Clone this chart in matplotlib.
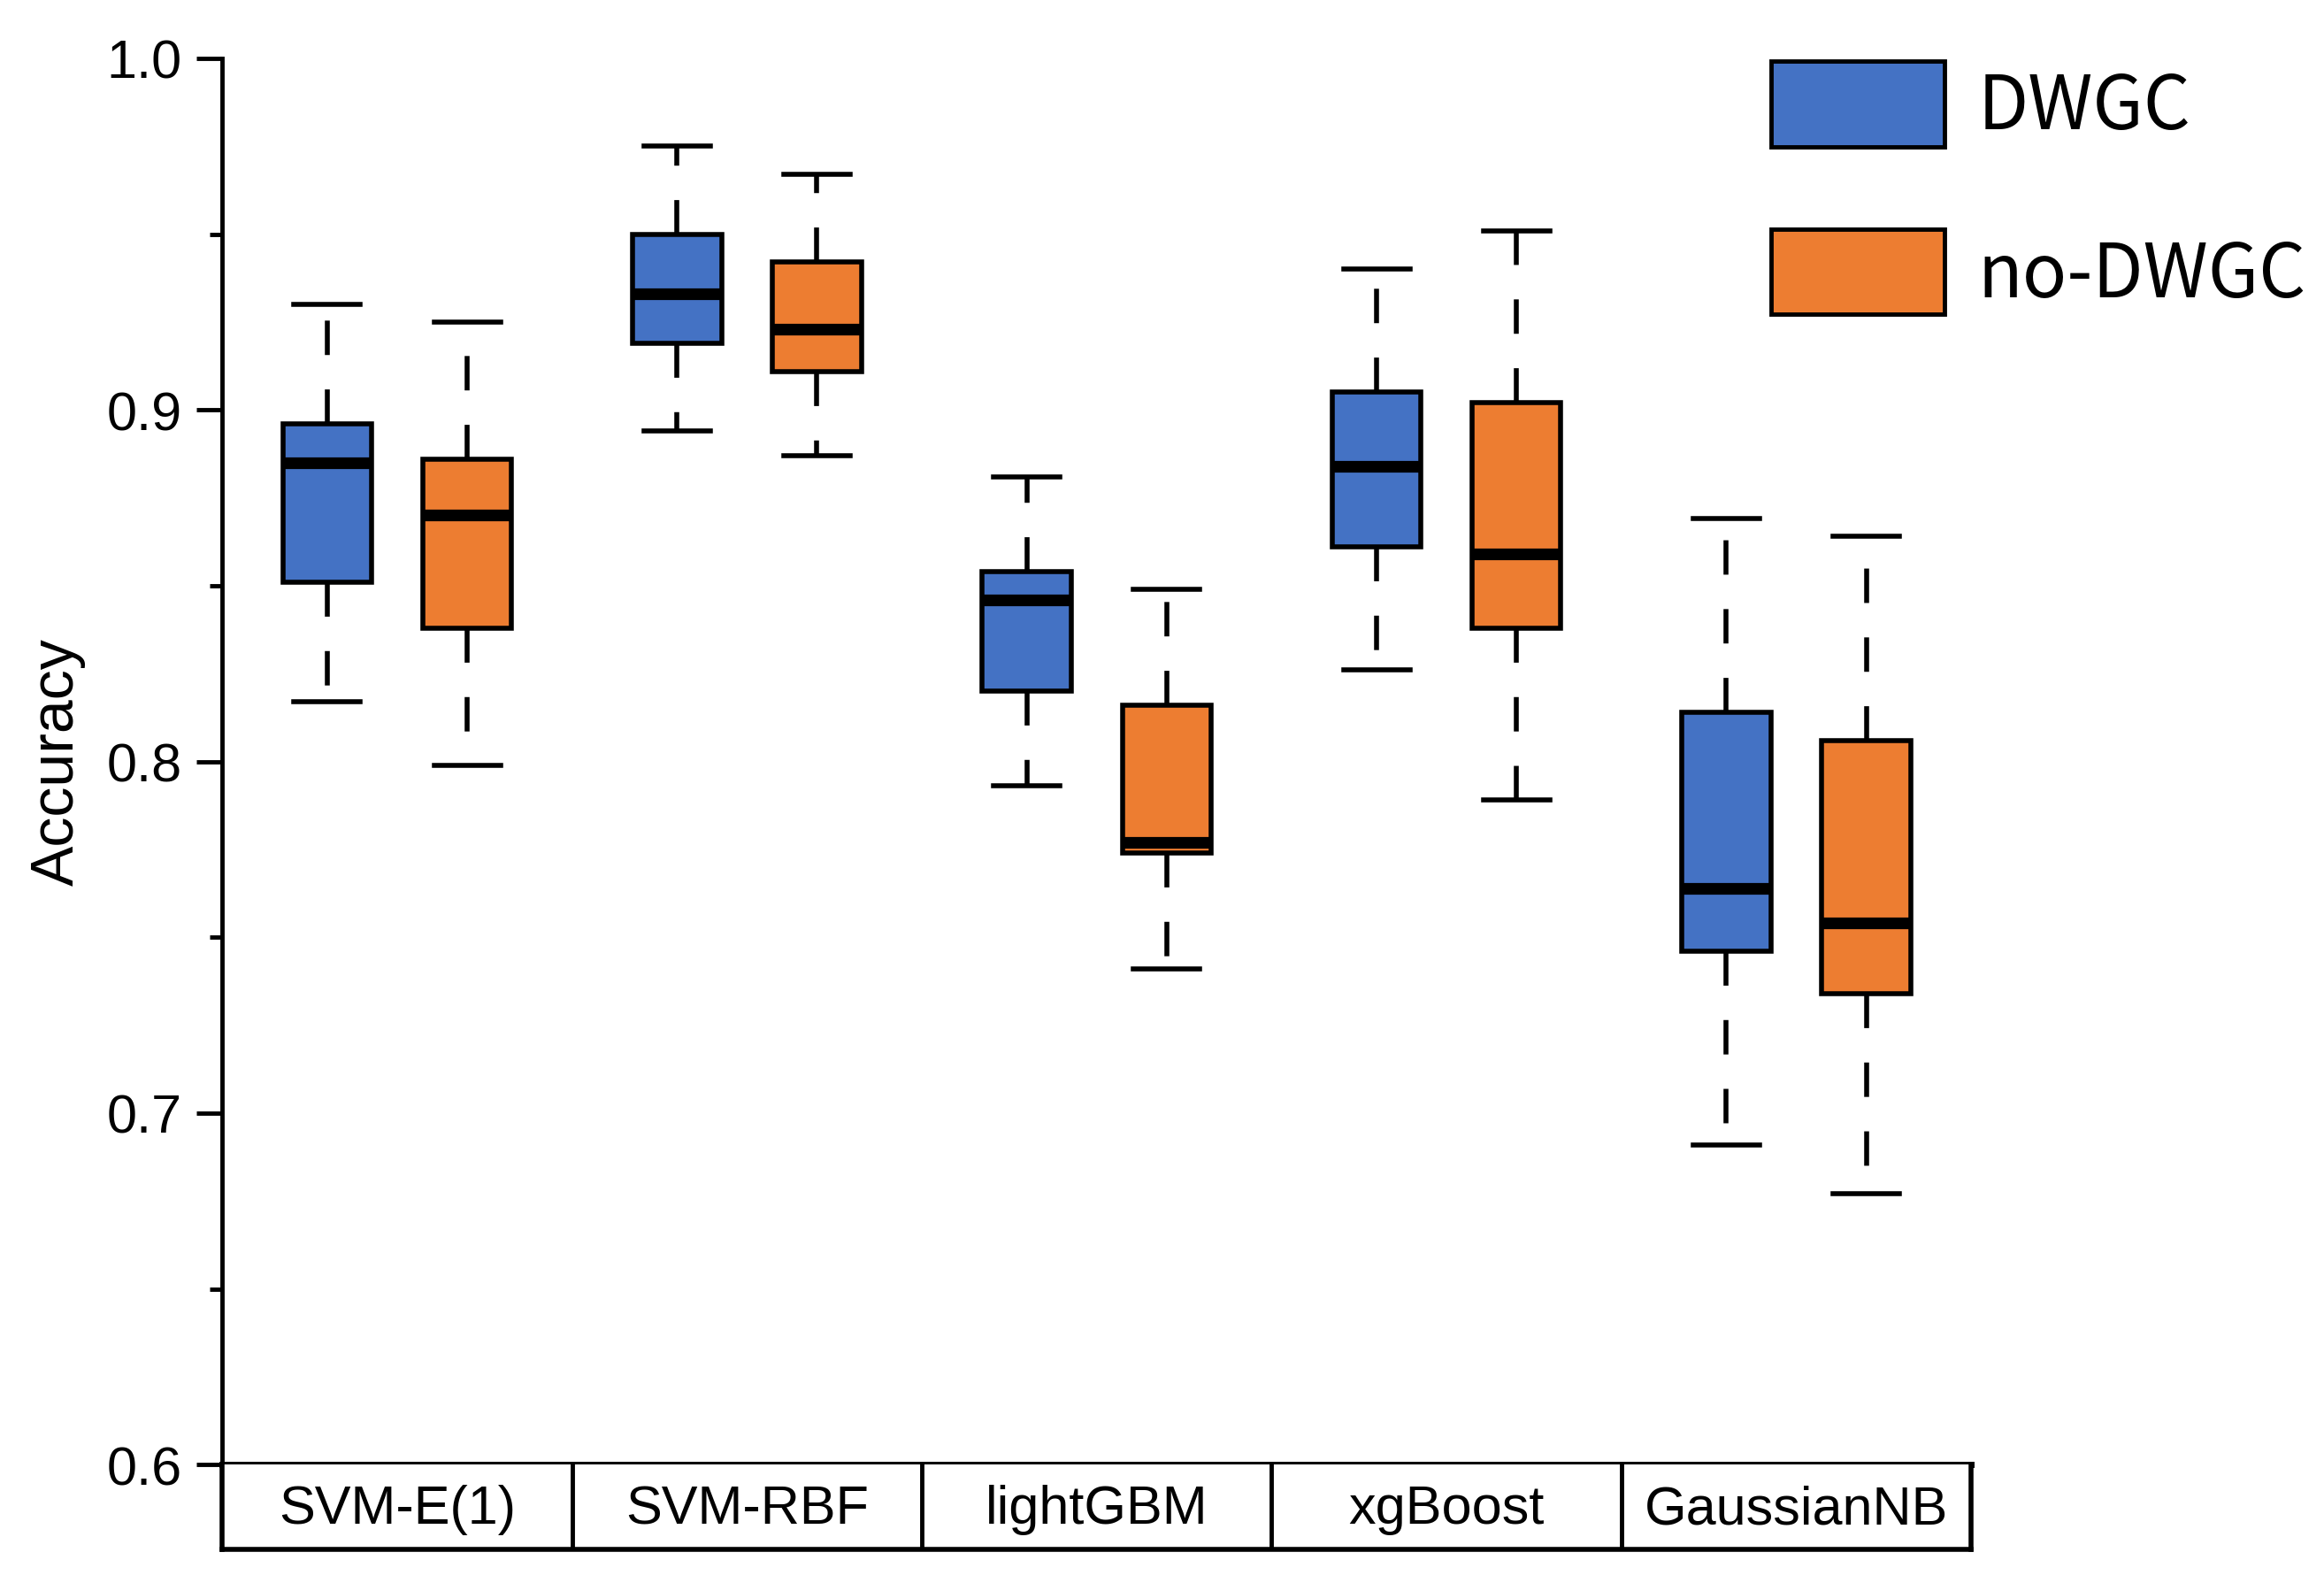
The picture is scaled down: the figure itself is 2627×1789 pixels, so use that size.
import matplotlib
matplotlib.use("Agg")
import matplotlib.pyplot as plt
from matplotlib.patches import Patch

categories = ["SVM-E(1)", "SVM-RBF", "lightGBM", "xgBoost", "GaussianNB"]
series = ["DWGC", "no-DWGC"]
colors = ["#4472C4", "#ED7D31"]

# per series: whisker low, q1, median, q3, whisker high
dwgc_whislo = [0.817, 0.894, 0.793, 0.826, 0.691]
dwgc_q1     = [0.851, 0.919, 0.820, 0.861, 0.746]
dwgc_med    = [0.885, 0.933, 0.846, 0.884, 0.764]
dwgc_q3     = [0.896, 0.950, 0.854, 0.905, 0.814]
dwgc_whishi = [0.930, 0.975, 0.881, 0.940, 0.869]

nodw_whislo = [0.799, 0.887, 0.741, 0.789, 0.677]
nodw_q1     = [0.838, 0.911, 0.774, 0.838, 0.734]
nodw_med    = [0.870, 0.923, 0.777, 0.859, 0.754]
nodw_q3     = [0.886, 0.942, 0.816, 0.902, 0.806]
nodw_whishi = [0.925, 0.967, 0.849, 0.951, 0.864]

yticks = [0.6, 0.7, 0.8, 0.9, 1.0]
yticklabels = ["0.6", "0.7", "0.8", "0.9", "1.0"]
yminor = [0.65, 0.75, 0.85, 0.95]

plt.rcParams['font.family'] = ['Liberation Sans', 'DejaVu Sans']

fig = plt.figure(figsize=(26.27, 17.90), dpi=100)
L, R = 150/1568, 1330/1568
B, T = 1 - 990/1070, 1 - 40/1070
ax = fig.add_axes([L, B, R - L, T - B])
tab = fig.add_axes([L, 1 - 1047/1070, R - L, (1047 - 990)/1070])

def stats(lo, q1, med, q3, hi):
    return [dict(whislo=a, q1=b, med=c, q3=d, whishi=e, fliers=[])
            for a, b, c, d, e in zip(lo, q1, med, q3, hi)]

all_stats = [stats(dwgc_whislo, dwgc_q1, dwgc_med, dwgc_q3, dwgc_whishi),
             stats(nodw_whislo, nodw_q1, nodw_med, nodw_q3, nodw_whishi)]
offsets = [-0.2, 0.2]
for st, off, col in zip(all_stats, offsets, colors):
    pos = [i + off for i in range(len(categories))]
    ax.bxp(st, positions=pos, widths=0.254, patch_artist=True, showfliers=False,
           boxprops=dict(facecolor=col, edgecolor='black', linewidth=4),
           medianprops=dict(color='black', linewidth=9.5, solid_capstyle='butt'),
           whiskerprops=dict(color='black', linewidth=4, linestyle=(0, (7, 7))),
           capprops=dict(color='black', linewidth=4),
           capwidths=0.19, manage_ticks=False)

ax.set_xlim(-0.5, len(categories) - 0.5)
ax.set_ylim(0.6, 1.0)
ax.set_yticks(yticks)
ax.set_yticklabels(yticklabels)
ax.set_yticks(yminor, minor=True)
ax.tick_params(axis='y', which='major', length=21, width=3.5, labelsize=44, pad=12, direction='out')
ax.tick_params(axis='y', which='minor', length=10, width=3.5, direction='out')
ax.set_xticks([])
for s in ['top', 'right']:
    ax.spines[s].set_visible(False)
ax.spines['left'].set_linewidth(3.5)
ax.spines['bottom'].set_linewidth(5)
ax.set_ylabel("Accuracy", fontsize=49)
ax.yaxis.set_label_coords(-0.078, 0.5)

# category table below the axis
tab.set_xlim(-0.5, len(categories) - 0.5)
tab.set_ylim(0, 1)
tab.set_xticks([])
tab.set_yticks([])
for s in tab.spines.values():
    s.set_linewidth(4)
tab.spines['top'].set_visible(False)
for i in range(1, len(categories)):
    tab.axvline(i - 0.5, color='black', linewidth=3.5)
for i, c in enumerate(categories):
    tab.text(i, 0.47, c, ha='center', va='center', fontsize=44)

handles = [Patch(facecolor=c, edgecolor='black', linewidth=3.5) for c in colors]
fig.legend(handles, series, loc='upper left', bbox_to_anchor=(1195/1568, 1 - 42/1070),
           frameon=False, handlelength=2.35, handleheight=1.4,
           labelspacing=1.12, handletextpad=0.45, borderpad=0, borderaxespad=0,
           prop={'family': ['Noto Sans CJK SC', 'DejaVu Sans'], 'size': 60})

fig.savefig("out.png", dpi=100)
